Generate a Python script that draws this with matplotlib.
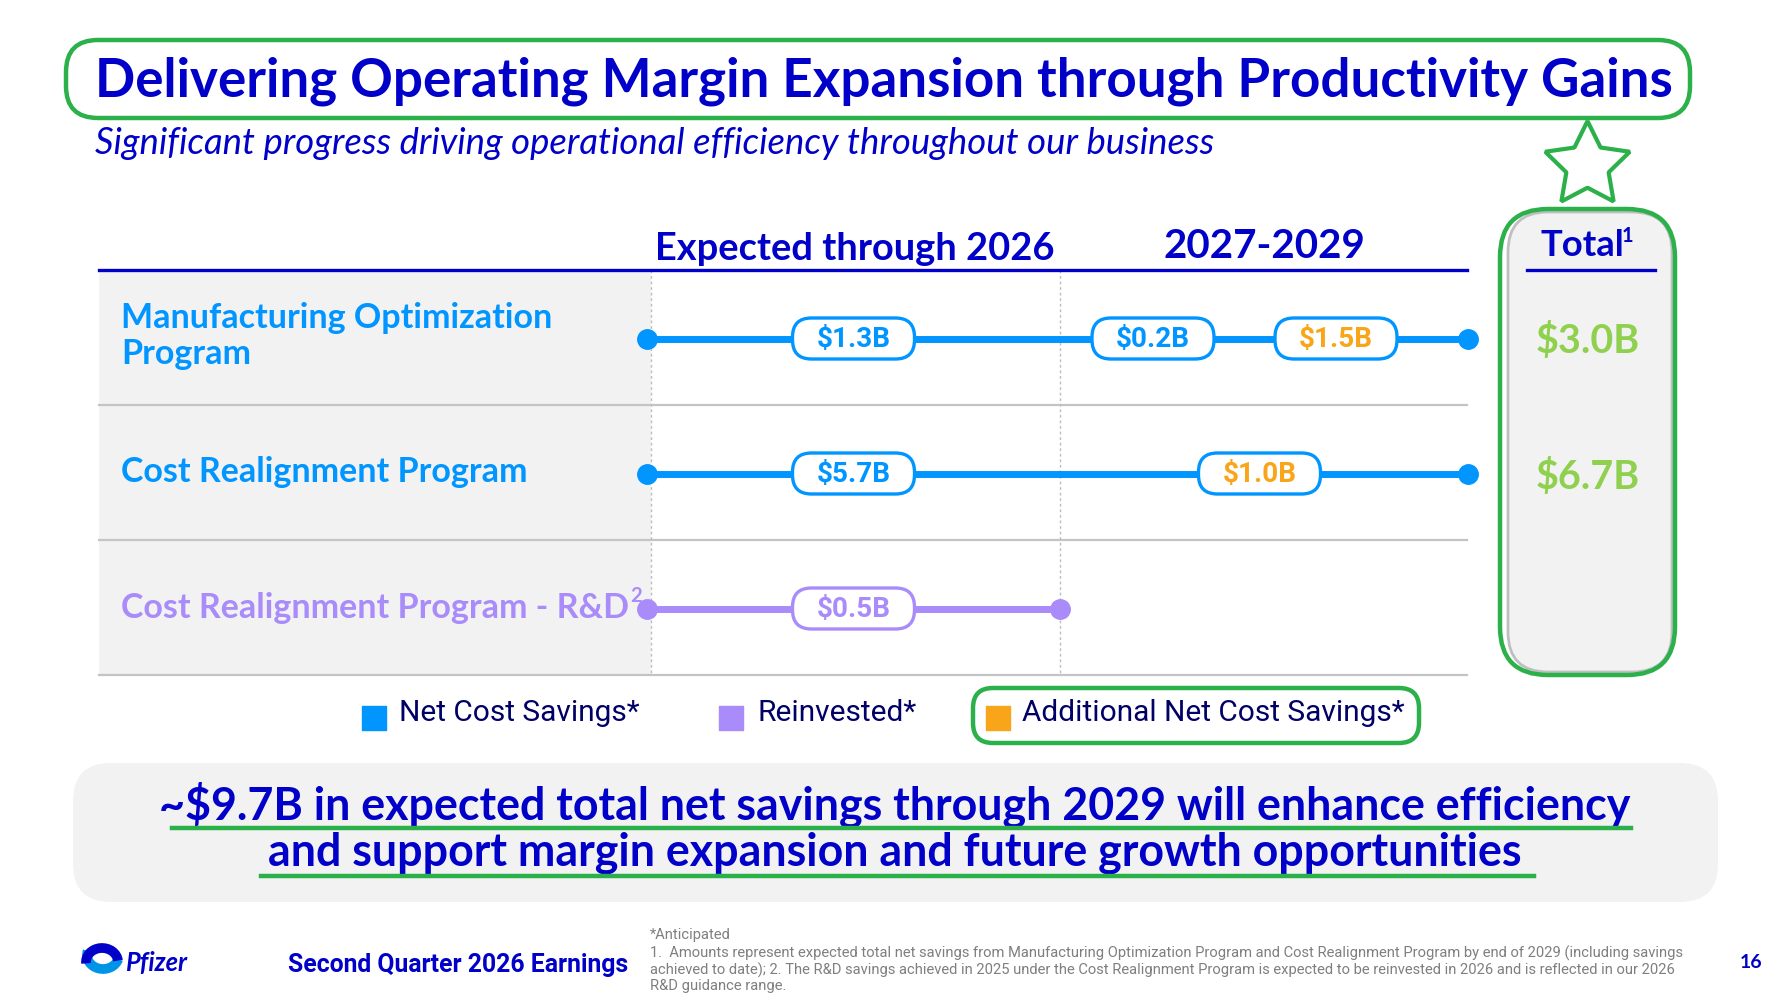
import numpy as np
import matplotlib.pyplot as plt
from matplotlib.patches import FancyBboxPatch, Rectangle, Arc

# --- data ---
programs = ["Manufacturing Optimization\nProgram", "Cost Realignment Program", "Cost Realignment Program - R&D"]
row_kind = ["net", "net", "reinvested"]
thru_2026 = [1.3, 5.7, 0.5]          # expected through 2026
net_2027_2029 = [0.2, None, None]    # net cost savings 2027-2029
addl_2027_2029 = [1.5, 1.0, None]    # additional net cost savings 2027-2029
totals = [3.0, 6.7]
periods = ["Expected through 2026", "2027-2029"]
legend_labels = ["Net Cost Savings*", "Reinvested*", "Additional Net Cost Savings*"]

title = "Delivering Operating Margin Expansion through Productivity Gains"
subtitle = "Significant progress driving operational efficiency throughout our business"
bottom_lines = ["~$9.7B in expected total net savings through 2029 will enhance efficiency",
                "and support margin expansion and future growth opportunities"]
footnotes = ["*Anticipated",
             "1.  Amounts represent expected total net savings from Manufacturing Optimization Program and Cost Realignment Program by end of 2029 (including savings",
             "achieved to date); 2. The R&D savings achieved in 2025 under the Cost Realignment Program is expected to be reinvested in 2026 and is reflected in our 2026",
             "R&D guidance range."]

# --- colours ---
navy = "#0000C9"
dark_navy = "#000066"
blue = "#0095FF"
purple = "#A98BFA"
orange = "#F9A51A"
green = "#2BB04A"
total_green = "#8FD14F"
panel = "#F2F2F2"

plt.rcParams['font.family'] = ['Lato', 'DejaVu Sans']

fig = plt.figure(figsize=(17.84, 10.01), dpi=100)
ax = fig.add_axes([0, 0, 1, 1])
ax.set_xlim(0, 1784)
ax.set_ylim(1001, 0)
ax.axis("off")
renderer = fig.canvas.get_renderer()


def fit(t, width):
    w = t.get_window_extent(renderer).width
    t.set_fontsize(t.get_fontsize() * width / w)
    return t.get_fontsize()


# title + green outline
t = ax.text(95, 81, title, fontsize=38, fontweight="bold", color=navy, va="center", ha="left")
fit(t, 1583)
ax.add_patch(FancyBboxPatch((66, 40), 1624, 78, boxstyle="round,pad=0,rounding_size=32",
                            fc="none", ec=green, lw=3.2, zorder=5))
t = ax.text(95, 144, subtitle, fontsize=22, style="italic", color=navy, va="center", ha="left")
fit(t, 1115)

# star
ax.plot([1587], [165], marker=(5, 1, 0), markersize=64, mfc="white", mec=green, mew=3)

# table background
x_left, x_mid, x_div, x_right = 99, 651, 1060, 1467
row_top = [270, 405, 540]
row_h = 135
ax.add_patch(Rectangle((x_left, 270), x_mid - x_left, 405, fc=panel, ec="none", zorder=0))
for y in [405, 540, 675]:
    ax.plot([x_left, x_right], [y, y], color="#C4C4C4", lw=1.6, zorder=1)
for x in [x_mid, x_div]:
    ax.plot([x, x], [270, 675], color="#BDBDBD", lw=1, ls=(0, (2, 2)), zorder=1)
ax.plot([x_left, x_right], [270, 270], color=navy, lw=2.4, zorder=2)

# period headers
t = ax.text(855, 249, periods[0], fontsize=26, fontweight="bold", color=navy, ha="center", va="center")
fit(t, 399)
t = ax.text(1264, 246, periods[1], fontsize=26, fontweight="bold", color=navy, ha="center", va="center")
fit(t, 201)

# row labels
label_colors = [blue if k == "net" else purple for k in row_kind]
lab_size = None
for i, name in enumerate(programs):
    yc = row_top[i] + row_h / 2
    if "\n" in name:
        first, second = name.split("\n")
        t1 = ax.text(121, yc - 20, first, fontsize=22, fontweight="bold", color=label_colors[i], va="center")
        lab_size = fit(t1, 429)
        ax.text(121, yc + 17, second, fontsize=lab_size, fontweight="bold", color=label_colors[i], va="center")
    else:
        t1 = ax.text(121, yc, name, fontsize=lab_size, fontweight="bold", color=label_colors[i], va="center")
        if name.endswith("R&D"):
            ext = t1.get_window_extent(renderer)
            ax.text(ext.x1 + 1, yc - 12, "2", fontsize=lab_size * 0.6, fontweight="bold",
                    color=label_colors[i], va="center")

# timelines
pill_w, pill_h = 122, 41
early_x = (x_mid - 4 + x_div) / 2
late_net_x, late_addl_x = 1153, 1336
pill_size = None


def pill(xc, yc, value, edge, txt_color):
    global pill_size
    ax.add_patch(FancyBboxPatch((xc - pill_w / 2, yc - pill_h / 2), pill_w, pill_h,
                                boxstyle="round,pad=0,rounding_size=19", fc="white", ec=edge, lw=2.4, zorder=4))
    t = ax.text(xc, yc + 1, f"${value:.1f}B", fontsize=18, fontweight="bold", color=txt_color,
                ha="center", va="center", zorder=5, family=["Roboto", "DejaVu Sans"])
    if pill_size is None:
        pill_size = fit(t, 74)
    else:
        t.set_fontsize(pill_size)


for i in range(len(programs)):
    yc = row_top[i] + row_h / 2 + 1
    col = label_colors[i]
    x_end = x_right + 1 if row_kind[i] == "net" else x_div
    ax.plot([x_mid - 4, x_end], [yc, yc], color=col, lw=5, solid_capstyle="butt", zorder=3)
    ax.plot([x_mid - 4, x_end], [yc, yc], ls="none", marker="o", markersize=14, color=col, zorder=3)
    pill(early_x, yc, thru_2026[i], col, col)
    if net_2027_2029[i] is not None:
        pill(late_net_x, yc, net_2027_2029[i], blue, blue)
        if addl_2027_2029[i] is not None:
            pill(late_addl_x, yc, addl_2027_2029[i], blue, orange)
    elif addl_2027_2029[i] is not None:
        pill((x_div + x_right) / 2 - 4, yc, addl_2027_2029[i], blue, orange)

# total column
ax.add_patch(FancyBboxPatch((1508, 212), 164, 460, boxstyle="round,pad=0,rounding_size=40",
                            fc=panel, ec="#BFBFBF", lw=2, zorder=1))
ax.add_patch(FancyBboxPatch((1500, 209), 175, 466, boxstyle="round,pad=0,rounding_size=48",
                            fc="none", ec=green, lw=3.2, zorder=5))
t = ax.text(1582, 245, "Total", fontsize=24, fontweight="bold", color=navy, ha="center", va="center")
fit(t, 84)
ext = t.get_window_extent(renderer)
ax.text(ext.x1 - 2, 236, "1", fontsize=t.get_fontsize() * 0.55, fontweight="bold", color=navy, va="center")
ax.plot([1527, 1655], [270, 270], color=navy, lw=2.4, zorder=2)
tot_size = None
for i, v in enumerate(totals):
    yc = row_top[i] + row_h / 2 + 4
    t = ax.text(1588, yc, f"${v:.1f}B", fontsize=26, fontweight="bold", color=total_green,
                ha="center", va="center")
    if tot_size is None:
        tot_size = fit(t, 104)
    else:
        t.set_fontsize(tot_size)

# legend
leg_sq_x = [374, 731, 998]
leg_txt_x = [399, 757, 1022]
leg_colors = [blue, purple, orange]
leg_size = None
for i, lab in enumerate(legend_labels):
    ax.scatter([leg_sq_x[i]], [718], marker="s", s=300, color=leg_colors[i], zorder=3)
    t = ax.text(leg_txt_x[i], 713, lab, fontsize=20, color=dark_navy, va="center", ha="left",
                family=["Roboto", "DejaVu Sans"])
    if leg_size is None:
        leg_size = fit(t, 240)
    else:
        t.set_fontsize(leg_size)
ax.add_patch(FancyBboxPatch((973, 688), 446, 55, boxstyle="round,pad=0,rounding_size=20",
                            fc="none", ec=green, lw=3.2, zorder=5))

# bottom message box
ax.add_patch(FancyBboxPatch((73, 763), 1645, 139, boxstyle="round,pad=0,rounding_size=38",
                            fc=panel, ec="none", zorder=0))
t = ax.text(895, 805, bottom_lines[0], fontsize=30, fontweight="bold", color=navy, ha="center", va="center")
bsize = fit(t, 1471)
ax.text(895, 853, bottom_lines[1], fontsize=bsize, fontweight="bold", color=navy, ha="center", va="center")
ax.plot([172, 1631], [828, 828], color=green, lw=3.2, zorder=3)
ax.plot([261, 1534], [876, 876], color=green, lw=3.2, zorder=3)

# footer: logo, label, footnotes, page number
ax.add_patch(Arc((103, 955), 32, 28, theta1=15, theta2=195, color="#0094E6", lw=7))
ax.add_patch(Arc((102, 962), 32, 28, theta1=175, theta2=355, color=navy, lw=7))
t = ax.text(125, 963, "Pfizer", fontsize=18, fontweight="bold", style="italic", color=navy, va="center")
fit(t, 62)
t = ax.text(288, 965, "Second Quarter 2026 Earnings", fontsize=18, fontweight="bold", color=navy,
            va="center", family=["Roboto", "DejaVu Sans"])
fit(t, 340)
fn_y = [935, 953, 970, 986]
fn_size = None
for i, line in enumerate(footnotes):
    t = ax.text(650, fn_y[i], line, fontsize=10, color="#7F7F7F", va="center", ha="left",
                family=["Roboto", "DejaVu Sans"])
    if i == 1:
        fn_size = fit(t, 1039)
for tx in ax.texts[-4:]:
    tx.set_fontsize(fn_size)
ax.text(1751, 962, "16", fontsize=14, fontweight="bold", color=navy, ha="center", va="center")

fig.savefig("out.png", dpi=100)
